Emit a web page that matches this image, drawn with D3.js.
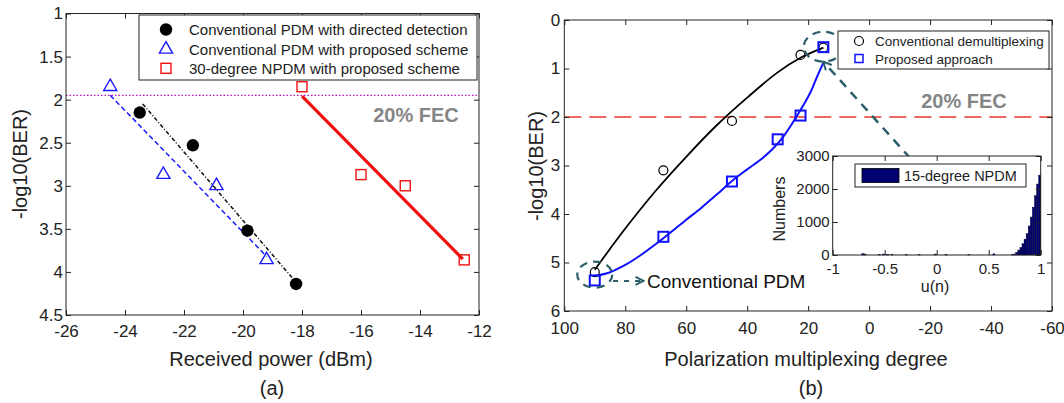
<!DOCTYPE html>
<html>
<head>
<meta charset="utf-8">
<script src="https://cdn.jsdelivr.net/npm/d3@7"></script>
<style>
  body { margin: 0; background: #fff; }
  text { font-family: Arial, "Liberation Sans", Helvetica, sans-serif; }
</style>
</head>
<body>
<svg id="chart" width="1064" height="403"></svg>
<script>
// ---------- panel (a) data ----------
var powerTicks = [-26, -24, -22, -20, -18, -16, -14, -12];
var berTicksA = [1, 1.5, 2, 2.5, 3, 3.5, 4, 4.5];
var ddPower = [-23.5, -21.7, -19.85, -18.2];
var ddBer = [2.15, 2.53, 3.52, 4.14];
var propPower = [-24.5, -22.7, -20.9, -19.2];
var propBer = [1.85, 2.87, 3.0, 3.86];
var npdmPower = [-18.0, -16.0, -14.5, -12.5];
var npdmBer = [1.85, 2.87, 3.0, 3.86];
var ddFitPower = [-23.4, -18.3], ddFitBer = [2.05, 4.08];
var propFitPower = [-24.5, -19.2], propFitBer = [1.95, 3.82];
var npdmFitPower = [-18.0, -12.55], npdmFitBer = [1.96, 3.85];
var fecA = 1.95;
var legendA = ["Conventional PDM with directed detection",
               "Conventional PDM with proposed scheme",
               "30-degree NPDM with proposed scheme"];

// ---------- panel (b) data ----------
var degTicks = [100, 80, 60, 40, 20, 0, -20, -40, -60];
var berTicksB = [0, 1, 2, 3, 4, 5, 6];
var convDeg = [90, 67.5, 45, 22.5, 15];
var convBer = [5.2, 3.1, 2.08, 0.72, 0.57];
var npDeg = [90, 67.5, 45, 30, 22.5, 15];
var npBer = [5.37, 4.47, 3.33, 2.46, 1.97, 0.56];
var convFitDeg = [90, 80, 70, 60, 50, 40, 30, 22.5, 15];
var convFitBer = [5.15, 4.3, 3.52, 2.82, 2.17, 1.6, 1.08, 0.78, 0.57];
var npFitDeg = [90, 85, 80, 75, 67.5, 60, 55, 50, 45, 40, 35, 31.5, 28.2, 23.8, 19.4, 17, 15];
var npFitBer = [5.28, 5.2, 5.05, 4.85, 4.5, 4.12, 3.87, 3.6, 3.32, 3.08, 2.85, 2.65, 2.41, 1.99, 1.51, 1.16, 0.88];
var fecB = 2.0;
var legendB = ["Conventional demultiplexing", "Proposed approach"];

// inset histogram (bin centres, counts)
var histU = [-0.71, -0.69, -0.55, -0.51, -0.47, -0.43, -0.29, -0.17, -0.01, 0.09, 0.31, 0.55, 0.73,
             0.75, 0.77, 0.79, 0.81, 0.83, 0.85, 0.87, 0.89, 0.91, 0.93, 0.95, 0.97, 0.99];
var histN = [40, 30, 20, 30, 20, 25, 15, 20, 30, 15, 10, 35, 15,
             30, 80, 150, 230, 340, 480, 650, 880, 1150, 1450, 1800, 2150, 2420];
var uTicks = [-1, -0.5, 0, 0.5, 1];
var nTicks = [0, 1000, 2000, 3000];

var svg = d3.select("#chart");
var teal = "#2c5f69";

svg.append("defs").append("marker")
    .attr("id", "chev")
    .attr("viewBox", "0 0 10 10")
    .attr("refX", 9).attr("refY", 5)
    .attr("markerWidth", 10).attr("markerHeight", 10)
    .attr("markerUnits", "userSpaceOnUse")
    .attr("orient", "auto")
  .append("path")
    .attr("d", "M1,1 L9,5 L1,9")
    .attr("fill", "none")
    .attr("stroke", teal)
    .attr("stroke-width", 2);

var plain = function (d) { return String(d); };

// draws a MATLAB style box with inward ticks on all sides
function drawFrame(g, x, y, xt, yt, fs, padX, padY) {
  var xl = d3.min(x.range()), xr = d3.max(x.range());
  var yt0 = d3.min(y.range()), yb0 = d3.max(y.range());
  g.append("rect")
    .attr("x", xl).attr("y", yt0)
    .attr("width", xr - xl).attr("height", yb0 - yt0)
    .attr("fill", "none").attr("stroke", "#222").attr("stroke-width", 1);

  var gb = g.append("g").attr("transform", "translate(0," + yb0 + ")")
    .call(d3.axisBottom(x).tickValues(xt).tickSizeInner(-5).tickSizeOuter(0).tickPadding(padX).tickFormat(plain));
  var gt = g.append("g").attr("transform", "translate(0," + yt0 + ")")
    .call(d3.axisTop(x).tickValues(xt).tickSizeInner(-5).tickSizeOuter(0).tickFormat(""));
  var gl = g.append("g").attr("transform", "translate(" + xl + ",0)")
    .call(d3.axisLeft(y).tickValues(yt).tickSizeInner(-5).tickSizeOuter(0).tickPadding(padY).tickFormat(plain));
  var gr = g.append("g").attr("transform", "translate(" + xr + ",0)")
    .call(d3.axisRight(y).tickValues(yt).tickSizeInner(-5).tickSizeOuter(0).tickFormat(""));
  [gb, gt, gl, gr].forEach(function (a) {
    a.select(".domain").remove();
    a.selectAll("line").attr("stroke", "#222");
    a.selectAll("text").attr("font-size", fs).attr("fill", "#222")
      .style("font-family", "Arial, 'Liberation Sans', sans-serif");
  });
}

// ================= panel (a) =================
var xa = d3.scaleLinear().domain([-26, -12]).range([66, 479]);
var ya = d3.scaleLinear().domain([1, 4.5]).range([13.5, 315]);
var ga = svg.append("g");

ga.append("line")
  .attr("x1", xa(-26)).attr("x2", xa(-12)).attr("y1", ya(fecA)).attr("y2", ya(fecA))
  .attr("stroke", "#c010c0").attr("stroke-width", 1.4).attr("stroke-dasharray", "1.5,2");

drawFrame(ga, xa, ya, powerTicks, berTicksA, "17px", 10, 3);

var lineA = d3.line().x(function (d) { return xa(d[0]); }).y(function (d) { return ya(d[1]); });

ga.append("path").datum(d3.zip(propFitPower, propFitBer)).attr("d", lineA)
  .attr("fill", "none").attr("stroke", "#1a1aff").attr("stroke-width", 1.5).attr("stroke-dasharray", "5,3");
ga.append("path").datum(d3.zip(ddFitPower, ddFitBer)).attr("d", lineA)
  .attr("fill", "none").attr("stroke", "#111").attr("stroke-width", 1.5).attr("stroke-dasharray", "4,2,1,2");
ga.append("path").datum(d3.zip(npdmFitPower, npdmFitBer)).attr("d", lineA)
  .attr("fill", "none").attr("stroke", "#f01010").attr("stroke-width", 3.2);

var tri = d3.symbol().type(d3.symbolTriangle).size(75);
ga.selectAll(".tri").data(d3.zip(propPower, propBer)).join("path")
  .attr("transform", function (d) { return "translate(" + xa(d[0]) + "," + ya(d[1]) + ")"; })
  .attr("d", tri).attr("fill", "none").attr("stroke", "#1a1aff").attr("stroke-width", 1.4);
ga.selectAll(".sqa").data(d3.zip(npdmPower, npdmBer)).join("rect")
  .attr("x", function (d) { return xa(d[0]) - 5; }).attr("y", function (d) { return ya(d[1]) - 5; })
  .attr("width", 10).attr("height", 10)
  .attr("fill", "none").attr("stroke", "#f01010").attr("stroke-width", 1.4);
ga.selectAll(".dot").data(d3.zip(ddPower, ddBer)).join("circle")
  .attr("cx", function (d) { return xa(d[0]); }).attr("cy", function (d) { return ya(d[1]); })
  .attr("r", 6.2).attr("fill", "#000");

ga.append("text").attr("x", 416).attr("y", 122).attr("text-anchor", "middle")
  .attr("font-size", "20px").attr("font-weight", "bold").attr("fill", "#858585").text("20% FEC");

// legend (a)
var lgA = ga.append("g");
lgA.append("rect").attr("x", 139).attr("y", 15).attr("width", 338).attr("height", 65)
  .attr("fill", "#fff").attr("stroke", "#222").attr("stroke-width", 1);
var rowsA = [29.5, 49.3, 68.3];
lgA.append("circle").attr("cx", 166).attr("cy", rowsA[0]).attr("r", 6.2).attr("fill", "#000");
lgA.append("path").attr("transform", "translate(166," + rowsA[1] + ")").attr("d", tri)
  .attr("fill", "none").attr("stroke", "#1a1aff").attr("stroke-width", 1.4);
lgA.append("rect").attr("x", 161).attr("y", rowsA[2] - 5).attr("width", 10).attr("height", 10)
  .attr("fill", "none").attr("stroke", "#f01010").attr("stroke-width", 1.4);
lgA.selectAll(".lt").data(legendA).join("text")
  .attr("x", 189).attr("y", function (d, i) { return rowsA[i] + 5.5; })
  .attr("font-size", "15px").attr("fill", "#222").text(function (d) { return d; });

ga.append("text").attr("x", 271).attr("y", 366).attr("text-anchor", "middle")
  .attr("font-size", "20px").attr("fill", "#222").text("Received power (dBm)");
ga.append("text").attr("transform", "translate(27,164) rotate(-90)").attr("text-anchor", "middle")
  .attr("font-size", "20px").attr("fill", "#222").text("-log10(BER)");
ga.append("text").attr("x", 272).attr("y", 395).attr("text-anchor", "middle")
  .attr("font-size", "20px").attr("fill", "#222").text("(a)");

// ================= panel (b) =================
var xb = d3.scaleLinear().domain([100, -60]).range([564.3, 1052]);
var yb = d3.scaleLinear().domain([0, 6]).range([20, 311]);
var gbp = svg.append("g");

gbp.append("line")
  .attr("x1", xb(100)).attr("x2", xb(-60)).attr("y1", yb(fecB)).attr("y2", yb(fecB))
  .attr("stroke", "#e8372f").attr("stroke-width", 1.4).attr("stroke-dasharray", "17,8");

drawFrame(gbp, xb, yb, degTicks, berTicksB, "17px", 11, 4);

var lineB = d3.line().curve(d3.curveCatmullRom.alpha(0.5))
  .x(function (d) { return xb(d[0]); }).y(function (d) { return yb(d[1]); });

gbp.append("path").datum(d3.zip(convFitDeg, convFitBer)).attr("d", lineB)
  .attr("fill", "none").attr("stroke", "#000").attr("stroke-width", 1.8);
gbp.append("path").datum(d3.zip(npFitDeg, npFitBer)).attr("d", lineB)
  .attr("fill", "none").attr("stroke", "#1010ff").attr("stroke-width", 2);

gbp.selectAll(".oc").data(d3.zip(convDeg, convBer)).join("circle")
  .attr("cx", function (d) { return xb(d[0]); }).attr("cy", function (d) { return yb(d[1]); })
  .attr("r", 4.5).attr("fill", "none").attr("stroke", "#000").attr("stroke-width", 1.2);
gbp.selectAll(".sqb").data(d3.zip(npDeg, npBer)).join("rect")
  .attr("x", function (d) { return xb(d[0]) - 5; }).attr("y", function (d) { return yb(d[1]) - 5; })
  .attr("width", 10).attr("height", 10)
  .attr("fill", "none").attr("stroke", "#1010ff").attr("stroke-width", 2);

gbp.append("text").attr("x", 964).attr("y", 108).attr("text-anchor", "middle")
  .attr("font-size", "20px").attr("font-weight", "bold").attr("fill", "#858585").text("20% FEC");

// annotations: dashed ellipses and arrows
gbp.append("ellipse").attr("cx", xb(15)).attr("cy", yb(0.55)).attr("rx", 19.5).attr("ry", 15)
  .attr("fill", "none").attr("stroke", teal).attr("stroke-width", 2.2).attr("stroke-dasharray", "8,6");
gbp.append("ellipse").attr("cx", xb(90)).attr("cy", yb(5.25)).attr("rx", 17.5).attr("ry", 13)
  .attr("fill", "none").attr("stroke", teal).attr("stroke-width", 2.2).attr("stroke-dasharray", "8,6");
gbp.append("line").attr("x1", xb(-13.5)).attr("y1", yb(2.85)).attr("x2", xb(15)).attr("y2", yb(0.86))
  .attr("stroke", teal).attr("stroke-width", 2.5).attr("stroke-dasharray", "9,7")
  .attr("marker-end", "url(#chev)");
gbp.append("line").attr("x1", xb(84)).attr("y1", yb(5.38)).attr("x2", xb(74)).attr("y2", yb(5.38))
  .attr("stroke", teal).attr("stroke-width", 2).attr("stroke-dasharray", "5,6")
  .attr("marker-end", "url(#chev)");
gbp.append("text").attr("x", 647).attr("y", yb(5.38) + 7)
  .attr("font-size", "19px").attr("fill", "#111").text("Conventional PDM");

// legend (b)
var lgB = gbp.append("g");
lgB.append("rect").attr("x", 838).attr("y", 31).attr("width", 211).attr("height", 38)
  .attr("fill", "#fff").attr("stroke", "#222").attr("stroke-width", 1);
lgB.append("circle").attr("cx", 859).attr("cy", 41).attr("r", 4.5)
  .attr("fill", "none").attr("stroke", "#000").attr("stroke-width", 1.2);
lgB.append("rect").attr("x", 855).attr("y", 54.5).attr("width", 8).attr("height", 8)
  .attr("fill", "none").attr("stroke", "#1010ff").attr("stroke-width", 1.5);
lgB.selectAll(".lt").data(legendB).join("text")
  .attr("x", 875).attr("y", function (d, i) { return [41, 58.5][i] + 5; })
  .attr("font-size", "13.5px").attr("fill", "#222").text(function (d) { return d; });

gbp.append("text").attr("x", 806).attr("y", 366).attr("text-anchor", "middle")
  .attr("font-size", "20px").attr("fill", "#222").text("Polarization multiplexing degree");
gbp.append("text").attr("transform", "translate(543,166) rotate(-90)").attr("text-anchor", "middle")
  .attr("font-size", "20px").attr("fill", "#222").text("-log10(BER)");
gbp.append("text").attr("x", 811).attr("y", 395).attr("text-anchor", "middle")
  .attr("font-size", "20px").attr("fill", "#222").text("(b)");

// ================= inset histogram =================
var xi = d3.scaleLinear().domain([-1, 1]).range([832.7, 1040.7]);
var yi = d3.scaleLinear().domain([0, 3000]).range([255, 156]);
var gi = svg.append("g");
gi.append("rect").attr("x", 832.7).attr("y", 156).attr("width", 208).attr("height", 99).attr("fill", "#fff");
gi.selectAll(".bar").data(d3.zip(histU, histN)).join("rect")
  .attr("x", function (d) { return xi(d[0] - 0.01); })
  .attr("width", function (d) { return xi(d[0] + 0.01) - xi(d[0] - 0.01); })
  .attr("y", function (d) { return yi(d[1]); })
  .attr("height", function (d) { return yi(0) - yi(d[1]); })
  .attr("fill", "#00006e").attr("stroke", "#000033").attr("stroke-width", 0.4);
drawFrame(gi, xi, yi, uTicks, nTicks, "15px", 8, 3);

var lgI = gi.append("g");
lgI.append("rect").attr("x", 855).attr("y", 164).attr("width", 171).attr("height", 23)
  .attr("fill", "#fff").attr("stroke", "#222").attr("stroke-width", 1);
lgI.append("rect").attr("x", 862).attr("y", 168.5).attr("width", 37).attr("height", 14)
  .attr("fill", "#00006e").attr("stroke", "#000").attr("stroke-width", 0.8);
lgI.append("text").attr("x", 904).attr("y", 180.5).attr("font-size", "14.5px").attr("fill", "#222")
  .text("15-degree NPDM");

gi.append("text").attr("x", 935).attr("y", 292).attr("text-anchor", "middle")
  .attr("font-size", "16px").attr("fill", "#222").text("u(n)");
gi.append("text").attr("transform", "translate(785,209) rotate(-90)").attr("text-anchor", "middle")
  .attr("font-size", "16px").attr("fill", "#222").text("Numbers");
</script>
</body>
</html>
